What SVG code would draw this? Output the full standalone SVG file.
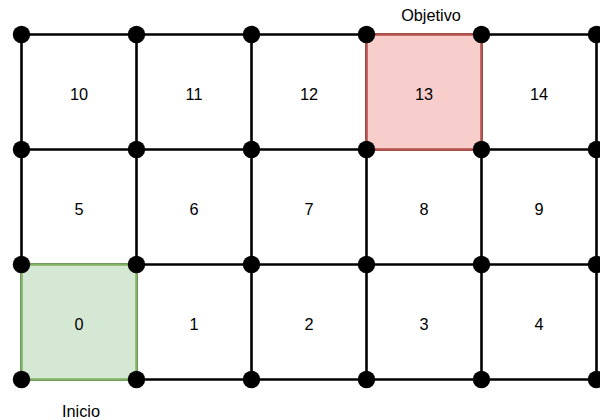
<svg xmlns="http://www.w3.org/2000/svg" width="600" height="420" viewBox="0 0 600 420">
<style>
.ln{stroke:#000;stroke-width:2.6;fill:none}
.dot{fill:#000}
text{font-family:"Liberation Sans",Arial,Helvetica,sans-serif;font-size:16.3px;fill:#000;text-anchor:middle}
</style>
<rect width="600" height="420" fill="#fff"/>
<g id="connectors">
<path class="ln" d="M21.5 34.5H596.5M21.5 149.5H596.5M21.5 264.5H596.5M21.5 379.5H596.5"/>
<path class="ln" d="M21.5 34.5V379.5M136.5 34.5V379.5M251.5 34.5V379.5M366.5 34.5V379.5M481.5 34.5V379.5M596.5 34.5V379.5"/>
</g>
<g id="cell-0"><rect x="21.5" y="264.5" width="115" height="115" fill="#d5e8d4" stroke="#82b366" stroke-width="2.6"/><text x="79" y="329.5">0</text></g>
<g id="cell-13"><rect x="366.5" y="34.5" width="115" height="115" fill="#f8cecc" stroke="#b85450" stroke-width="2.6"/><text x="424" y="99.5">13</text></g>
<g id="cells">
<text x="79" y="99.5">10</text><text x="194" y="99.5">11</text><text x="309" y="99.5">12</text><text x="539" y="99.5">14</text>
<text x="79" y="214.5">5</text><text x="194" y="214.5">6</text><text x="309" y="214.5">7</text><text x="424" y="214.5">8</text><text x="539" y="214.5">9</text>
<text x="194" y="329.5">1</text><text x="309" y="329.5">2</text><text x="424" y="329.5">3</text><text x="539" y="329.5">4</text>
</g>
<g id="nodes" class="dot">
<circle cx="21.5" cy="34.5" r="8.7"/><circle cx="136.5" cy="34.5" r="8.7"/><circle cx="251.5" cy="34.5" r="8.7"/><circle cx="366.5" cy="34.5" r="8.7"/><circle cx="481.5" cy="34.5" r="8.7"/><circle cx="596.5" cy="34.5" r="8.7"/>
<circle cx="21.5" cy="149.5" r="8.7"/><circle cx="136.5" cy="149.5" r="8.7"/><circle cx="251.5" cy="149.5" r="8.7"/><circle cx="366.5" cy="149.5" r="8.7"/><circle cx="481.5" cy="149.5" r="8.7"/><circle cx="596.5" cy="149.5" r="8.7"/>
<circle cx="21.5" cy="264.5" r="8.7"/><circle cx="136.5" cy="264.5" r="8.7"/><circle cx="251.5" cy="264.5" r="8.7"/><circle cx="366.5" cy="264.5" r="8.7"/><circle cx="481.5" cy="264.5" r="8.7"/><circle cx="596.5" cy="264.5" r="8.7"/>
<circle cx="21.5" cy="379.5" r="8.7"/><circle cx="136.5" cy="379.5" r="8.7"/><circle cx="251.5" cy="379.5" r="8.7"/><circle cx="366.5" cy="379.5" r="8.7"/><circle cx="481.5" cy="379.5" r="8.7"/><circle cx="596.5" cy="379.5" r="8.7"/>
</g>
<g id="labels">
<text x="431" y="21">Objetivo</text>
<text x="81" y="416.5">Inicio</text>
</g>
</svg>
